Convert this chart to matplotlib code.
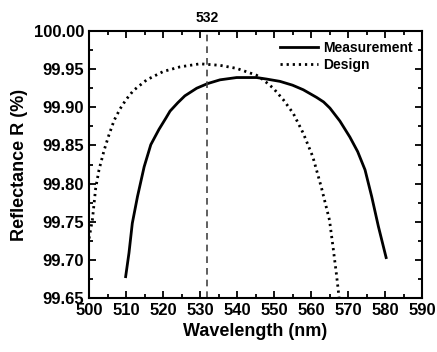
import numpy as np
import matplotlib.pyplot as plt
from matplotlib.ticker import MultipleLocator

plt.rcParams['font.family'] = ['Liberation Sans', 'DejaVu Sans']
plt.rcParams['font.weight'] = 'bold'

# measured reflectance of the mirror coating
meas_wl = [509.9, 510.8, 511.7, 513.1, 514.9, 516.7, 518.9, 520.8, 521.9, 524.0,
           525.9, 529.1, 532.0, 535.4, 539.9, 545.3, 548.0, 551.6, 555.0, 557.9,
           561.5, 563.4, 565.1, 567.8, 570.5, 572.6, 574.6, 576.4, 578.2, 580.3]
meas_r = [99.678, 99.709, 99.748, 99.783, 99.822, 99.851, 99.871, 99.886, 99.895, 99.906,
          99.915, 99.925, 99.931, 99.936, 99.939, 99.939, 99.937, 99.934, 99.929, 99.923,
          99.913, 99.907, 99.899, 99.882, 99.861, 99.842, 99.818, 99.783, 99.744, 99.703]

# design curve
des_wl = [500.0, 500.9, 501.8, 502.7, 504.1, 505.4, 506.8, 508.4, 510.0, 512.0,
          515.6, 520.1, 524.6, 530.0, 535.4, 539.9, 545.3, 547.1, 549.8, 552.5,
          555.2, 557.9, 560.5, 562.8, 565.0, 566.0, 566.9, 567.6]
des_r = [99.728, 99.752, 99.794, 99.818, 99.844, 99.864, 99.883, 99.898, 99.910, 99.922,
         99.936, 99.947, 99.953, 99.957, 99.955, 99.951, 99.942, 99.936, 99.925, 99.910,
         99.892, 99.866, 99.835, 99.795, 99.752, 99.715, 99.680, 99.650]

laser_wl = 532

fig = plt.figure(figsize=(4.37, 3.52), dpi=100)
ax = fig.add_axes([0.2037, 0.1534, 0.762, 0.7585])

ax.plot(meas_wl, meas_r, color='black', lw=2.0, label='Measurement')
ax.plot(des_wl, des_r, color='black', lw=2.0, linestyle=(0, (0.8, 1.4)), label='Design')
ax.axvline(laser_wl, color='#444444', lw=1.2, linestyle=(0, (4, 3)))
ax.text(laser_wl, 100.008, str(laser_wl), ha='center', va='bottom',
        fontsize=10, fontweight='bold')

ax.set_xlim(500, 590)
ax.set_ylim(99.65, 100.0)
ax.xaxis.set_major_locator(MultipleLocator(10))
ax.xaxis.set_minor_locator(MultipleLocator(5))
ax.yaxis.set_major_locator(MultipleLocator(0.05))
ax.yaxis.set_minor_locator(MultipleLocator(0.025))
ax.yaxis.set_major_formatter(plt.FormatStrFormatter('%.2f'))

ax.tick_params(which='both', direction='in', top=True, right=True, width=1.3)
ax.tick_params(which='major', length=5, labelsize=12)
ax.tick_params(which='minor', length=3)
for sp in ax.spines.values():
    sp.set_linewidth(1.5)

ax.set_xlabel('Wavelength (nm)', fontsize=13, fontweight='bold')
ax.set_ylabel('Reflectance R (%)', fontsize=13, fontweight='bold')

leg = ax.legend(loc='upper right', frameon=False, fontsize=10, handlelength=2.8,
                handletextpad=0.3, labelspacing=0.2, borderaxespad=0.3)
for t in leg.get_texts():
    t.set_fontweight('bold')

fig.savefig('out.png', dpi=100)
